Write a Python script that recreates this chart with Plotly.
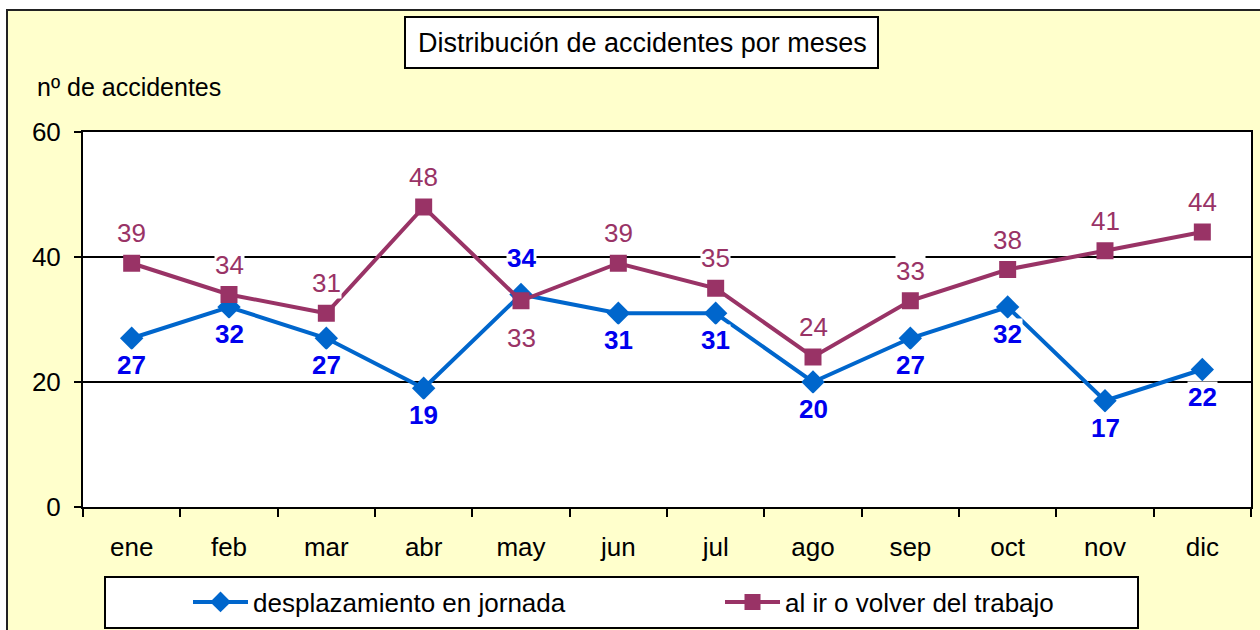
import plotly.graph_objects as go

# Monthly accident counts
meses = ["ene", "feb", "mar", "abr", "may", "jun", "jul", "ago", "sep", "oct", "nov", "dic"]
desplazamiento = [27, 32, 27, 19, 34, 31, 31, 20, 27, 32, 17, 22]
ir_volver = [39, 34, 31, 48, 33, 39, 35, 24, 33, 38, 41, 44]
y_ticks = [0, 20, 40, 60]

W, H = 1260, 630
L, R, T, B = 83, 9, 132, 123
PW, PH = W - L - R, H - T - B

BLUE_LINE = "#0066CC"
BLUE_TEXT = "#0000EE"
PURPLE = "#993366"
FONT = "Liberation Sans, Arial, sans-serif"


def px_x(p):
    return (p - L) / PW


def px_y(p):
    return (H - B - p) / PH


fig = go.Figure()
fig.add_trace(go.Scatter(
    x=meses, y=desplazamiento, name="desplazamiento en jornada",
    mode="lines+markers", legend="legend",
    line=dict(color=BLUE_LINE, width=4),
    marker=dict(symbol="diamond", size=18, color=BLUE_LINE),
))
fig.add_trace(go.Scatter(
    x=meses, y=ir_volver, name="al ir o volver del trabajo",
    mode="lines+markers", legend="legend2",
    line=dict(color=PURPLE, width=4),
    marker=dict(symbol="square", size=17, color=PURPLE),
))

annotations = []
# value labels: the higher series is labelled above, the lower one below
for m, a, b in zip(meses, desplazamiento, ir_volver):
    blue_up = a > b
    annotations.append(dict(
        x=m, y=a, xref="x", yref="y", text=str(a), showarrow=False,
        yshift=37 if blue_up else -27,
        font=dict(family=FONT, size=26, color=BLUE_TEXT, weight="bold"),
        bgcolor="white", borderpad=0,
    ))
    annotations.append(dict(
        x=m, y=b, xref="x", yref="y", text=str(b), showarrow=False,
        yshift=-37 if blue_up else 30,
        font=dict(family=FONT, size=26, color=PURPLE),
        bgcolor="white", borderpad=0,
    ))

# title and y-axis caption
annotations.append(dict(
    x=px_x(642), y=px_y(43), xref="paper", yref="paper",
    text="Distribución de accidentes por meses", showarrow=False,
    font=dict(family=FONT, size=27, color="black"),
    xanchor="center", yanchor="middle",
))
annotations.append(dict(
    x=px_x(35), y=px_y(87), xref="paper", yref="paper",
    text="nº de accidentes", showarrow=False,
    font=dict(family=FONT, size=25, color="black"),
    xanchor="left", yanchor="middle",
))

shapes = [
    # chart area
    dict(type="rect", xref="paper", yref="paper", layer="below",
         x0=px_x(7), y0=px_y(10), x1=px_x(1275), y1=px_y(645),
         fillcolor="#FFFFCC", line=dict(color="#222222", width=2)),
    # plot area
    dict(type="rect", xref="paper", yref="paper", layer="below",
         x0=0, y0=0, x1=1, y1=1, fillcolor="white", line=dict(width=0)),
    # title box
    dict(type="rect", xref="paper", yref="paper", layer="below",
         x0=px_x(405), y0=px_y(17), x1=px_x(878), y1=px_y(68),
         fillcolor="white", line=dict(color="black", width=2)),
    # legend box
    dict(type="rect", xref="paper", yref="paper", layer="below",
         x0=px_x(105), y0=px_y(577), x1=px_x(1138), y1=px_y(628),
         fillcolor="white", line=dict(color="black", width=2)),
]

legend_common = dict(
    orientation="h", xanchor="left", yanchor="middle",
    bgcolor="rgba(0,0,0,0)", borderwidth=0, itemwidth=55,
    font=dict(family=FONT, size=26, color="black"),
    itemclick=False, itemdoubleclick=False,
)

fig.update_layout(
    width=W, height=H,
    margin=dict(l=L, r=R, t=T, b=B, pad=0, autoexpand=False),
    paper_bgcolor="white",
    plot_bgcolor="rgba(0,0,0,0)",
    font=dict(family=FONT, size=26, color="black"),
    showlegend=True,
    legend=dict(x=px_x(188), y=px_y(602), **legend_common),
    legend2=dict(x=px_x(720), y=px_y(602), **legend_common),
    annotations=annotations,
    shapes=shapes,
    xaxis=dict(
        type="category", categoryorder="array", categoryarray=meses,
        range=[-0.5, len(meses) - 0.5],
        tickson="boundaries", ticks="outside", ticklen=8, tickwidth=2,
        tickcolor="black", showline=True, linecolor="black", linewidth=2,
        mirror=True, showgrid=False, ticklabelstandoff=16,
        tickfont=dict(family=FONT, size=26, color="black"),
        fixedrange=True,
    ),
    yaxis=dict(
        range=[0, 60], tickvals=y_ticks, ticks="outside", ticklen=7,
        tickwidth=2, tickcolor="black", showline=True, linecolor="black",
        linewidth=2, mirror=True, showgrid=True, gridcolor="black",
        gridwidth=2, zeroline=False, ticklabelstandoff=8,
        tickfont=dict(family=FONT, size=26, color="black"),
        fixedrange=True,
    ),
)

fig.write_html("out.html")
